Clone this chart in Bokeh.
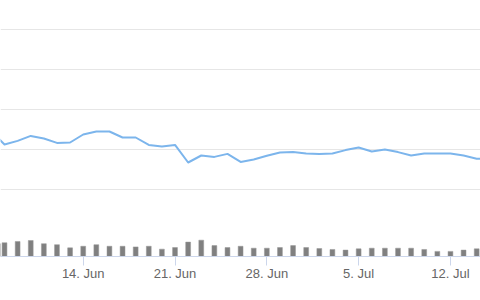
import pandas as pd
from bokeh.plotting import figure
from bokeh.models import Range1d, FixedTicker, Grid, ColumnDataSource
from bokeh.embed import file_html
from bokeh.resources import INLINE

# ---- data ----
dates = pd.date_range("2021-06-07", "2021-07-15", freq="D")
price = [129.0, 122.5, 124.3, 126.8, 125.5, 123.3, 123.5, 127.5, 129.0, 129.0,
         126.0, 126.0, 122.3, 121.5, 122.3, 113.5, 117.0, 116.3, 117.8, 113.8,
         115.0, 116.9, 118.5, 118.7, 118.0, 117.7, 118.0, 119.7, 121.0, 119.0,
         120.0, 118.7, 117.0, 118.0, 118.0, 118.0, 117.0, 115.4, 115.3]
volume = [40, 43, 47, 50, 40, 37, 27, 32, 37, 32, 32, 30, 32, 23, 28, 45, 51, 34,
          28, 32, 26, 26, 28, 34, 28, 25, 22, 20, 24, 26, 26, 26, 26, 22, 16, 16,
          20, 24, 22]
tick_dates = ["2021-06-14", "2021-06-21", "2021-06-28", "2021-07-05", "2021-07-12"]
tick_labels = ["14. Jun", "21. Jun", "28. Jun", "5. Jul", "12. Jul"]
grid_values = [100, 120, 140, 160, 180, 200]

# ---- mapping ----
t0 = dates[0]
xday = [(d - t0).days for d in dates]
tick_pos = [(pd.Timestamp(t) - t0).days for t in tick_dates]

src = ColumnDataSource(dict(x=xday, price=price, volume=volume))

p = figure(width=480, height=300, output_backend="svg", toolbar_location=None,
           x_range=Range1d(0.694, 37.29), y_range=Range1d(66.5, 194.5),
           y_axis_location=None, min_border=0, min_border_bottom=44)
p.outline_line_color = None
p.background_fill_color = "white"
p.border_fill_color = "white"

p.extra_y_ranges = {"vol": Range1d(0, 800)}

p.xgrid.visible = False
for g in p.ygrid:
    g.visible = False
p.add_layout(Grid(dimension=1, ticker=FixedTicker(ticks=grid_values),
                  grid_line_color="#e6e6e6", grid_line_width=1))

p.vbar(x="x", top="volume", bottom=0, width=0.37, source=src,
       y_range_name="vol", fill_color="#808080", line_color="#969696",
       line_width=0.5)
p.line("x", "price", source=src, line_color="#7cb5ec", line_width=2,
       line_join="round")

ax = p.xaxis[0]
ax.ticker = FixedTicker(ticks=tick_pos)
ax.major_label_overrides = {k: v for k, v in zip(tick_pos, tick_labels)}
ax.axis_line_color = "#ccd6eb"
ax.major_tick_line_color = "#ccd6eb"
ax.major_tick_out = 9
ax.major_tick_in = 0
ax.minor_tick_line_color = None
ax.major_label_standoff = 0
ax.major_label_text_color = "#666666"
ax.major_label_text_font = "Liberation Sans"
ax.major_label_text_font_size = "13px"

open("out.html", "w").write(file_html(p, INLINE))
